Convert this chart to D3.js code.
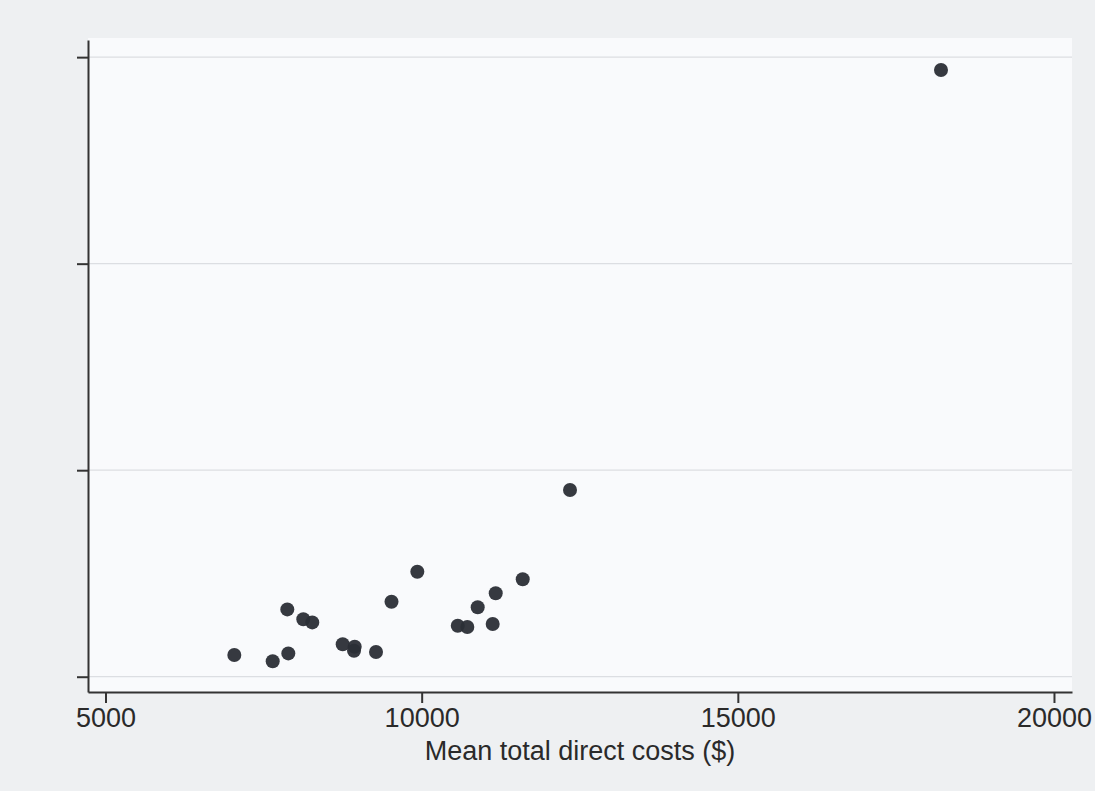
<!DOCTYPE html>
<html>
<head>
<meta charset="utf-8">
<script src="https://cdn.jsdelivr.net/npm/d3@7"></script>
<style>
  body { margin: 0; background: #eef0f2; }
  text { font-family: "Liberation Sans", Arial, sans-serif; fill: #2a2a2a; }
</style>
</head>
<body>
<script>
// values (y labels are cut off in the original, units relative)
var costs = [7037, 7644, 7875, 7891, 8128, 8270, 8751, 8941, 8930, 9278,
             9523, 9931, 10571, 10722, 10886, 11123, 11171, 11598, 12346, 18213];
var yVals = [0.105, 0.075, 0.326, 0.113, 0.278, 0.263, 0.157, 0.145, 0.126, 0.120,
             0.363, 0.508, 0.247, 0.241, 0.336, 0.255, 0.404, 0.472, 0.904, 2.938];
var xTicks = [5000, 10000, 15000, 20000];
var yTicks = [0, 1, 2, 3];
var xTitle = "Mean total direct costs ($)";

var W = 1095, H = 791;
var margin = {left: 88, right: 1072, top: 40, bottom: 692};

var svg = d3.select("body").append("svg")
            .attr("width", W)
            .attr("height", H)
            .style("display", "block")
            .style("background", "#eef0f2");

// plot region (whiter than the graph region)
svg.append("rect")
   .attr("x", margin.left).attr("y", 38)
   .attr("width", margin.right - margin.left).attr("height", margin.bottom - 38)
   .attr("fill", "#f9fafc");

var x = d3.scaleLinear().domain([4723, 20285]).range([margin.left, margin.right]);
var y = d3.scaleLinear().domain([-0.074, 3.083]).range([margin.bottom, margin.top]);

// gridlines
svg.append("g")
   .selectAll("line")
   .data(yTicks)
   .join("line")
   .attr("x1", margin.left).attr("x2", margin.right)
   .attr("y1", d => y(d)).attr("y2", d => y(d))
   .attr("stroke", "#dcdee2")
   .attr("stroke-width", 1.2);

// x axis
var gx = svg.append("g")
            .attr("transform", `translate(0, ${margin.bottom})`)
            .call(d3.axisBottom(x).tickValues(xTicks).tickSize(11).tickSizeOuter(0)
                    .tickPadding(5).tickFormat(d3.format("d")));
gx.select(".domain").attr("stroke", "#333").attr("stroke-width", 2);
gx.selectAll(".tick line").attr("stroke", "#333").attr("stroke-width", 2);
gx.selectAll(".tick text").style("font-size", "27px").attr("fill", "#2a2a2a");

// y axis (labels cropped away in the source)
var gy = svg.append("g")
            .attr("transform", `translate(${margin.left}, 0)`)
            .call(d3.axisLeft(y).tickValues(yTicks).tickSize(11).tickSizeOuter(0).tickFormat(""));
gy.select(".domain").attr("stroke", "#333").attr("stroke-width", 2);
gy.selectAll(".tick line").attr("stroke", "#333").attr("stroke-width", 2);

// axis title
svg.append("text")
   .attr("x", (margin.left + margin.right) / 2)
   .attr("y", 760)
   .attr("text-anchor", "middle")
   .style("font-size", "27px")
   .text(xTitle);

// points
svg.append("g")
   .selectAll("circle")
   .data(costs)
   .join("circle")
   .attr("cx", d => x(d))
   .attr("cy", (d, i) => y(yVals[i]))
   .attr("r", 7)
   .attr("fill", "#2b2e36")
   .attr("fill-opacity", 0.95);
</script>
</body>
</html>
